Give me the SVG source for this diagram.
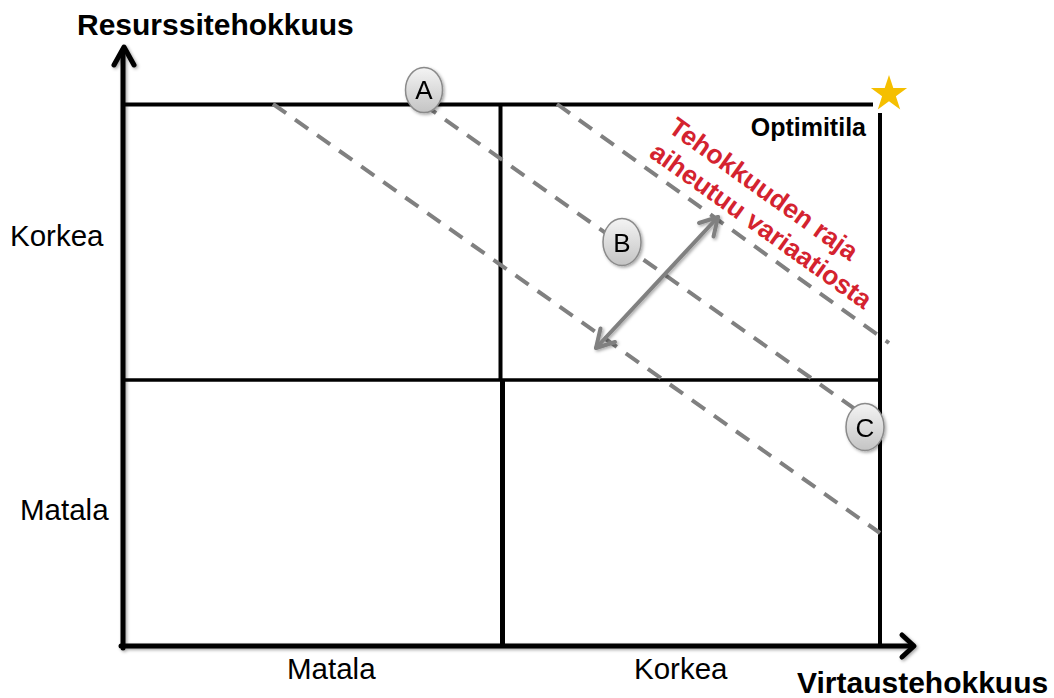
<svg xmlns="http://www.w3.org/2000/svg" width="1054" height="698" viewBox="0 0 1054 698">
  <defs>
    <linearGradient id="bubbleFill" x1="0" y1="0" x2="0" y2="1">
      <stop offset="0" stop-color="#f4f4f4"/>
      <stop offset="1" stop-color="#c4c4c4"/>
    </linearGradient>
    <filter id="softShadow" x="-20%" y="-20%" width="140%" height="140%">
      <feDropShadow dx="1.5" dy="1.5" stdDeviation="1.5" flood-color="#000" flood-opacity="0.35"/>
    </filter>
  </defs>
  <style>
    .grid { stroke: #000; fill: none; stroke-linecap: butt; }
    .axis { stroke: #000; fill: none; stroke-width: 5; stroke-linecap: round; stroke-linejoin: round; }
    .dash { stroke: #808080; stroke-width: 4; stroke-dasharray: 16 11; fill: none; }
    .span { stroke: #808080; stroke-width: 4; fill: none; stroke-linecap: round; stroke-linejoin: round; }
    .bubble { fill: url(#bubbleFill); stroke: #8a8a8a; stroke-width: 1.5; }
    .bubbleText { font-family: "Liberation Sans", Arial, sans-serif; font-size: 26px; fill: #000; text-anchor: middle; }
    .axisTitle { font-family: "Liberation Sans", Arial, sans-serif; font-size: 30px; font-weight: bold; fill: #000; }
    .level { font-family: "Liberation Sans", Arial, sans-serif; font-size: 29.5px; fill: #000; }
    .optimum { font-family: "Liberation Sans", Arial, sans-serif; font-size: 25px; font-weight: bold; fill: #000; }
    .limit { font-family: "Liberation Sans", Arial, sans-serif; font-size: 26.5px; font-weight: bold; fill: #d4232f; }
  </style>

  <rect width="1054" height="698" fill="#fff"/>

  <!-- quadrant grid -->
  <g id="grid">
    <line class="grid" x1="123" y1="104.5" x2="873" y2="104.5" stroke-width="4"/>
    <line class="grid" x1="880" y1="113" x2="880" y2="646" stroke-width="4"/>
    <line class="grid" x1="123" y1="380" x2="880" y2="380" stroke-width="3.5"/>
    <line class="grid" x1="500.5" y1="104" x2="500.5" y2="380" stroke-width="4"/>
    <line class="grid" x1="502.5" y1="380" x2="502.5" y2="646" stroke-width="5"/>
  </g>

  <!-- efficiency frontier lines -->
  <g id="connectors">
    <line class="dash" x1="273" y1="104" x2="880" y2="533"/>
    <line class="dash" x1="423" y1="104" x2="862" y2="414"/>
    <line class="dash" x1="557" y1="104" x2="889" y2="343"/>
    <g id="variation-arrow" filter="url(#softShadow)">
      <line class="span" x1="596" y1="348" x2="718" y2="217"/>
      <polyline class="span" points="699,223 718,217 713.5,236.5"/>
      <polyline class="span" points="615,342 596,348 600.5,328.5"/>
    </g>
  </g>

  <!-- axes -->
  <g id="axes" filter="url(#softShadow)">
    <line class="axis" x1="123" y1="648" x2="123" y2="50"/>
    <polyline class="axis" points="114,65 124,47 134,65"/>
    <line class="axis" x1="121" y1="646" x2="912" y2="646"/>
    <polyline class="axis" points="902,635 914,646 902,657"/>
  </g>

  <!-- axis titles and levels -->
  <g id="y-title"><text class="axisTitle" x="77" y="35">Resurssitehokkuus</text></g>
  <g id="x-title"><text class="axisTitle" x="797" y="693">Virtaustehokkuus</text></g>
  <g id="y-high"><text class="level" x="10" y="246">Korkea</text></g>
  <g id="y-low"><text class="level" x="20" y="520">Matala</text></g>
  <g id="x-low"><text class="level" x="287" y="679">Matala</text></g>
  <g id="x-high"><text class="level" x="634" y="679">Korkea</text></g>

  <!-- optimum corner -->
  <g id="optimum">
    <text class="optimum" x="866" y="136" text-anchor="end">Optimitila</text>
    <polygon fill="#f5bf00" points="889,75 893.3,88.1 907.1,88.1 895.9,96.3 900.2,109.4 889,101.3 877.8,109.4 882.1,96.3 870.9,88.1 884.7,88.1"/>
  </g>

  <!-- frontier label -->
  <g id="limit-label">
    <text class="limit" x="667" y="131" transform="rotate(35.5 667 131)">Tehokkuuden raja</text>
    <text class="limit" x="648" y="156" transform="rotate(35.5 648 156)">aiheutuu variaatiosta</text>
  </g>

  <!-- position markers -->
  <g id="node-A" filter="url(#softShadow)">
    <ellipse class="bubble" cx="424" cy="90" rx="18.5" ry="22.5"/>
    <text class="bubbleText" x="424" y="99">A</text>
  </g>
  <g id="node-B" filter="url(#softShadow)">
    <ellipse class="bubble" cx="622" cy="242" rx="19" ry="23.5"/>
    <text class="bubbleText" x="622" y="251.5">B</text>
  </g>
  <g id="node-C" filter="url(#softShadow)">
    <ellipse class="bubble" cx="865" cy="427" rx="19" ry="23.5"/>
    <text class="bubbleText" x="865" y="437">C</text>
  </g>
</svg>
